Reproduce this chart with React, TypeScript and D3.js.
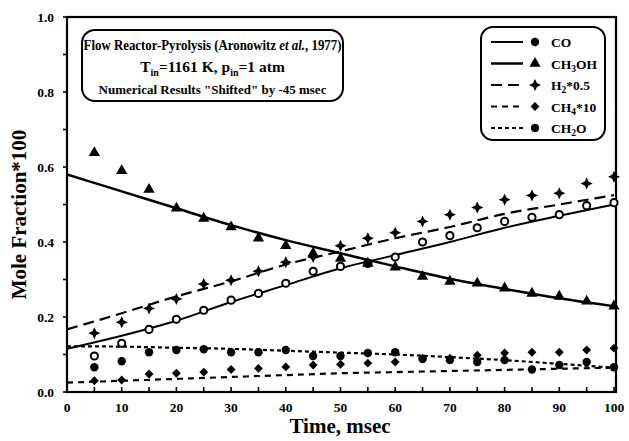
import React from "react";
import * as d3 from "d3";

// ---- data ----
const expTimes = [5, 10, 15, 20, 25, 30, 35, 40, 45, 50, 55, 60, 65, 70, 75, 80, 85, 90, 95, 100];
const coExp = [0.096, 0.13, 0.167, 0.194, 0.218, 0.245, 0.263, 0.29, 0.322, 0.335, 0.343, 0.36, 0.40, 0.417, 0.438, 0.455, 0.466, 0.473, 0.497, 0.505];
const ch3ohExp = [0.638, 0.59, 0.54, 0.49, 0.463, 0.44, 0.41, 0.39, 0.37, 0.356, 0.343, 0.333, 0.308, 0.295, 0.29, 0.277, 0.263, 0.255, 0.242, 0.229];
const h2Exp = [0.157, 0.186, 0.223, 0.248, 0.288, 0.298, 0.322, 0.346, 0.36, 0.39, 0.41, 0.425, 0.455, 0.473, 0.492, 0.513, 0.524, 0.53, 0.556, 0.574];
const ch4Exp = [0.03, 0.032, 0.048, 0.05, 0.053, 0.06, 0.063, 0.067, 0.072, 0.074, 0.077, 0.08, 0.09, 0.09, 0.098, 0.104, 0.106, 0.106, 0.112, 0.117];
const ch2oExp = [0.066, 0.082, 0.106, 0.112, 0.114, 0.106, 0.106, 0.112, 0.096, 0.096, 0.104, 0.106, 0.088, 0.085, 0.08, 0.085, 0.06, 0.072, 0.08, 0.066];

const modelTimes = [0, 10, 20, 30, 40, 50, 60, 70, 80, 90, 100];
const coModel = [0.115, 0.15, 0.19, 0.24, 0.285, 0.33, 0.365, 0.40, 0.438, 0.47, 0.5];
const ch3ohModel = [0.58, 0.535, 0.49, 0.445, 0.405, 0.37, 0.335, 0.302, 0.275, 0.25, 0.229];
const h2Model = [0.167, 0.21, 0.255, 0.295, 0.34, 0.375, 0.41, 0.44, 0.475, 0.5, 0.525];
const ch4Model = [0.025, 0.03, 0.035, 0.04, 0.045, 0.05, 0.053, 0.056, 0.059, 0.062, 0.065];
const ch2oModel = [0.122, 0.121, 0.118, 0.115, 0.11, 0.105, 0.1, 0.093, 0.085, 0.075, 0.065];

const xTicks = [0, 10, 20, 30, 40, 50, 60, 70, 80, 90, 100];
const yTicks = [0, 0.2, 0.4, 0.6, 0.8, 1.0];
const legendLabels = ["CO", "CH3OH", "H2*0.5", "CH4*10", "CH2O"];

const W = 629, H = 441;
const x = d3.scaleLinear().domain([0, 100]).range([67, 614]);
const y = d3.scaleLinear().domain([0, 1]).range([392, 17]);

const FONT = "'Liberation Serif', 'DejaVu Serif', serif";

type Series = {
  name: string;
  exp: number[];
  model: number[];
  dash: string | null;
  width: number;
  marker: string;
};

const series: Series[] = [
  { name: "CO", exp: coExp, model: coModel, dash: null, width: 2, marker: "ring" },
  { name: "CH3OH", exp: ch3ohExp, model: ch3ohModel, dash: null, width: 2.5, marker: "tri" },
  { name: "H2*0.5", exp: h2Exp, model: h2Model, dash: "11,6", width: 2.2, marker: "star" },
  { name: "CH4*10", exp: ch4Exp, model: ch4Model, dash: "6,5", width: 2.2, marker: "diamond" },
  { name: "CH2O", exp: ch2oExp, model: ch2oModel, dash: "4,3", width: 2.2, marker: "dot" },
];

// four-pointed star symbol type
const star4 = {
  draw(context: any, size: number) {
    const r = Math.sqrt(size) * 0.75;
    const k = r * 0.32;
    context.moveTo(0, -r);
    context.lineTo(k, -k);
    context.lineTo(r, 0);
    context.lineTo(k, k);
    context.lineTo(0, r);
    context.lineTo(-k, k);
    context.lineTo(-r, 0);
    context.lineTo(-k, -k);
    context.closePath();
  },
};

function Marker({ kind, cx, cy }: { kind: string; cx: number; cy: number }) {
  if (kind === "ring") {
    return <circle cx={cx} cy={cy} r={3.6} fill="white" stroke="black" strokeWidth={2} />;
  }
  if (kind === "dot") {
    return <circle cx={cx} cy={cy} r={4.2} fill="black" />;
  }
  const sym =
    kind === "tri"
      ? d3.symbol().type(d3.symbolTriangle).size(55)
      : kind === "star"
      ? d3.symbol().type(star4 as any).size(64)
      : d3.symbol().type(d3.symbolDiamond2).size(50);
  return <path d={sym() || ""} transform={`translate(${cx},${cy})`} fill="black" />;
}

function Legend() {
  const lx = 481, ly = 27, lw = 124, lh = 113;
  const rowY = (i: number) => ly + 15 + i * 21.5;
  const sub = (label: string) => {
    if (label === "CO") return <tspan>CO</tspan>;
    if (label === "CH3OH")
      return (
        <>
          <tspan>CH</tspan>
          <tspan fontSize={9.5} dy={3}>3</tspan>
          <tspan dy={-3}>OH</tspan>
        </>
      );
    if (label === "H2*0.5")
      return (
        <>
          <tspan>H</tspan>
          <tspan fontSize={9.5} dy={3}>2</tspan>
          <tspan dy={-3}>*0.5</tspan>
        </>
      );
    if (label === "CH4*10")
      return (
        <>
          <tspan>CH</tspan>
          <tspan fontSize={9.5} dy={3}>4</tspan>
          <tspan dy={-3}>*10</tspan>
        </>
      );
    return (
      <>
        <tspan>CH</tspan>
        <tspan fontSize={9.5} dy={3}>2</tspan>
        <tspan dy={-3}>O</tspan>
      </>
    );
  };
  return (
    <g>
      <rect x={lx} y={ly} width={lw} height={lh} rx={12} fill="white" stroke="black" strokeWidth={2} />
      {series.map((s, i) => (
        <g key={s.name}>
          <line
            x1={lx + 10}
            x2={lx + 42}
            y1={rowY(i)}
            y2={rowY(i)}
            stroke="black"
            strokeWidth={s.width}
            strokeDasharray={s.dash || undefined}
          />
          <Marker kind={s.marker === "ring" ? "dot" : s.marker} cx={lx + 54} cy={rowY(i)} />
          <text x={lx + 70} y={rowY(i) + 5} fontFamily={FONT} fontWeight="bold" fontSize={13.5}>
            {sub(legendLabels[i])}
          </text>
        </g>
      ))}
    </g>
  );
}

function TitleBox() {
  const bx = 82, by = 30, bw = 261, bh = 71;
  const cx = bx + bw / 2;
  return (
    <g fontFamily={FONT} fontWeight="bold" textAnchor="middle">
      <rect x={bx} y={by} width={bw} height={bh} rx={13} fill="white" stroke="black" strokeWidth={2} />
      <g transform={`translate(${cx},${by + 20}) scale(0.83,1)`}>
        <text x={0} y={0} fontSize={15.5}>
          <tspan>Flow Reactor-Pyrolysis (Aronowitz </tspan>
          <tspan fontStyle="italic">et al.</tspan>
          <tspan>, 1977)</tspan>
        </text>
      </g>
      <text x={cx} y={by + 42} fontSize={15.5}>
        <tspan>T</tspan>
        <tspan fontSize={10} dy={4}>in</tspan>
        <tspan dy={-4}>=1161 K, p</tspan>
        <tspan fontSize={10} dy={4}>in</tspan>
        <tspan dy={-4}>=1 atm</tspan>
      </text>
      <text x={cx} y={by + 64} fontSize={13}>
        Numerical Results "Shifted" by -45 msec
      </text>
    </g>
  );
}

export default function App() {
  const line = d3
    .line<number>()
    .x((_, i) => x(modelTimes[i]))
    .y((d) => y(d))
    .curve(d3.curveMonotoneX);

  const minorX = d3.range(0, 101, 5);
  const minorY = d3.range(0, 1.001, 0.1);

  return (
    <svg width={W} height={H} style={{ position: "absolute", left: 0, top: 0, background: "white" }}>
      <rect x={0} y={0} width={W} height={H} fill="white" />
      {/* frame */}
      <rect
        x={x(0)}
        y={y(1)}
        width={x(100) - x(0) + 2}
        height={y(0) - y(1)}
        fill="none"
        stroke="black"
        strokeWidth={2.2}
      />
      {/* ticks */}
      {minorX.map((t) => (
        <line key={"xt" + t} x1={x(t)} x2={x(t)} y1={y(0)} y2={y(0) - 5} stroke="black" strokeWidth={1.6} />
      ))}
      {minorY.map((t) => (
        <line key={"yt" + t} x1={x(0)} x2={x(0) - 4} y1={y(t)} y2={y(t)} stroke="black" strokeWidth={1.6} />
      ))}
      {/* tick labels */}
      {xTicks.map((t) => (
        <text
          key={"xl" + t}
          x={x(t)}
          y={y(0) + 20}
          textAnchor="middle"
          fontFamily={FONT}
          fontWeight="bold"
          fontSize={13.5}
        >
          {t}
        </text>
      ))}
      {yTicks.map((t) => (
        <text
          key={"yl" + t}
          x={x(0) - 13}
          y={y(t) + 4.5}
          textAnchor="end"
          fontFamily={FONT}
          fontWeight="bold"
          fontSize={13.5}
        >
          {t.toFixed(1)}
        </text>
      ))}
      {/* axis titles */}
      <text
        x={340}
        y={433}
        textAnchor="middle"
        fontFamily={FONT}
        fontWeight="bold"
        fontSize={21}
      >
        Time, msec
      </text>
      <text
        transform={`translate(26,${(y(0) + y(1)) / 2 + 10}) rotate(-90)`}
        textAnchor="middle"
        fontFamily={FONT}
        fontWeight="bold"
        fontSize={21}
      >
        Mole Fraction*100
      </text>
      {/* model lines */}
      {series.map((s) => (
        <path
          key={"m" + s.name}
          d={line(s.model) || ""}
          fill="none"
          stroke="black"
          strokeWidth={s.width}
          strokeDasharray={s.dash || undefined}
        />
      ))}
      {/* experimental markers */}
      {series.map((s) =>
        s.exp.map((v, i) => (
          <Marker key={s.name + i} kind={s.marker} cx={x(expTimes[i])} cy={y(v)} />
        ))
      )}
      <TitleBox />
      <Legend />
    </svg>
  );
}
